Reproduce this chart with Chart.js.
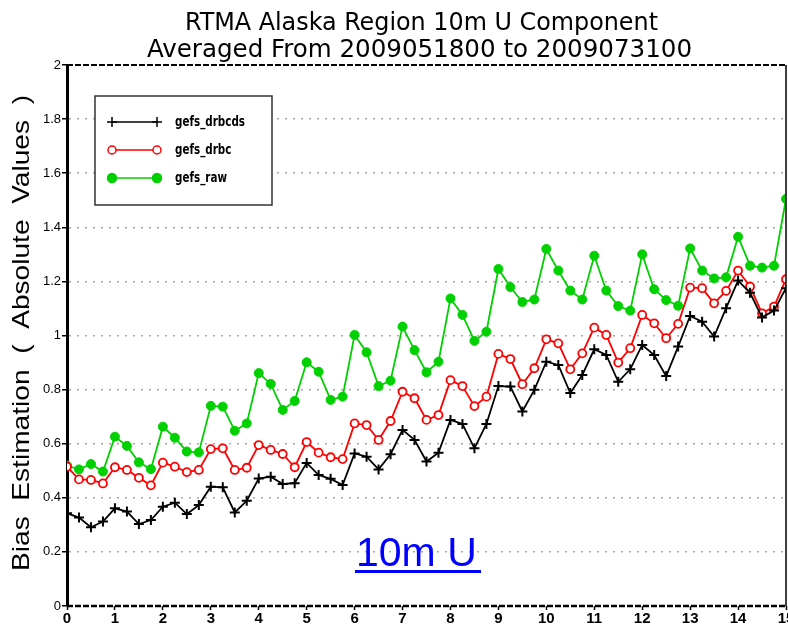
<!DOCTYPE html>
<html>
<head>
<meta charset="utf-8">
<script src="https://cdn.jsdelivr.net/npm/chart.js@4.4.1/dist/chart.umd.min.js"></script>
<style>
body { margin: 0; background: #fff; }
</style>
</head>
<body>
<canvas id="myChart" width="788" height="626"></canvas>
<script>
var xValues = [0, 0.25, 0.5, 0.75, 1, 1.25, 1.5, 1.75, 2, 2.25, 2.5, 2.75, 3, 3.25, 3.5, 3.75,
	4, 4.25, 4.5, 4.75, 5, 5.25, 5.5, 5.75, 6, 6.25, 6.5, 6.75, 7, 7.25, 7.5, 7.75,
	8, 8.25, 8.5, 8.75, 9, 9.25, 9.5, 9.75, 10, 10.25, 10.5, 10.75, 11, 11.25, 11.5, 11.75,
	12, 12.25, 12.5, 12.75, 13, 13.25, 13.5, 13.75, 14, 14.25, 14.5, 14.75, 15];
var xTicks = [0, 1, 2, 3, 4, 5, 6, 7, 8, 9, 10, 11, 12, 13, 14, 15];
var yTicks = ["0", "0.2", "0.4", "0.6", "0.8", "1", "1.2", "1.4", "1.6", "1.8", "2"];

var drbcds = [0.343, 0.327, 0.291, 0.312, 0.361, 0.349, 0.303, 0.318, 0.367, 0.382, 0.340, 0.373,
	0.441, 0.439, 0.346, 0.389, 0.471, 0.478, 0.451, 0.454, 0.529,
	0.484, 0.470, 0.447, 0.564, 0.552, 0.505, 0.561, 0.651, 0.614, 0.534, 0.567,
	0.688, 0.673, 0.583, 0.673, 0.813, 0.811, 0.719, 0.799, 0.903,
	0.891, 0.787, 0.854, 0.949, 0.928, 0.829, 0.875, 0.965, 0.928, 0.850, 0.959,
	1.072, 1.051, 0.996, 1.101, 1.203, 1.158, 1.067, 1.092, 1.175];
var drbc = [0.515, 0.468, 0.466, 0.453, 0.513, 0.503, 0.474, 0.446, 0.530, 0.515, 0.495, 0.503,
	0.580, 0.583, 0.503, 0.511, 0.595, 0.577, 0.562, 0.513, 0.606,
	0.567, 0.550, 0.543, 0.675, 0.669, 0.614, 0.684, 0.792, 0.768, 0.688, 0.706,
	0.835, 0.813, 0.739, 0.774, 0.932, 0.913, 0.820, 0.879, 0.986,
	0.971, 0.875, 0.934, 1.029, 1.002, 0.900, 0.953, 1.076, 1.045, 0.990, 1.043,
	1.177, 1.175, 1.119, 1.165, 1.240, 1.181, 1.082, 1.107, 1.208];
var raw = [0.519, 0.505, 0.525, 0.497, 0.626, 0.592, 0.531, 0.506, 0.663, 0.622, 0.571, 0.568,
	0.740, 0.737, 0.648, 0.675, 0.861, 0.821, 0.725, 0.758, 0.901,
	0.866, 0.762, 0.774, 1.002, 0.938, 0.813, 0.833, 1.033, 0.946, 0.864, 0.903,
	1.137, 1.076, 0.980, 1.014, 1.246, 1.179, 1.124, 1.133, 1.320,
	1.240, 1.166, 1.133, 1.295, 1.166, 1.109, 1.092, 1.300, 1.171, 1.131, 1.110,
	1.322, 1.240, 1.211, 1.215, 1.365, 1.258, 1.251, 1.258, 1.505];

var seriesNames = ["gefs_drbcds", "gefs_drbc", "gefs_raw"];
var titleLines = ["RTMA Alaska Region 10m U Component", "Averaged From 2009051800 to 2009073100"];
var yTitle = "Bias  Estimation  (  Absolute  Values  )";
var noteText = "10m U";

var GREEN = "#00d000";
var RED = "#ff0000";

function pts(arr) {
	return arr.map(function (v, i) { return { x: xValues[i], y: v }; });
}

// draw text squeezed/stretched so it spans exactly w pixels
function fitText(ctx, text, cx, cy, w) {
	var m = ctx.measureText(text).width;
	ctx.save();
	ctx.translate(cx, cy);
	ctx.scale(w / m, 1);
	ctx.fillText(text, 0, 0);
	ctx.restore();
}

// titles, frame, legend box and the blue note
var decor = {
	id: "decor",
	afterDraw: function (chart) {
		var ctx = chart.ctx;
		var a = chart.chartArea;
		ctx.save();

		// title
		ctx.fillStyle = "#000";
		ctx.textAlign = "center";
		ctx.textBaseline = "alphabetic";
		ctx.font = '25px "DejaVu Sans Condensed", "DejaVu Sans", sans-serif';
		fitText(ctx, titleLines[0], 421.5, 30, 473);
		fitText(ctx, titleLines[1], 419.5, 57, 545);

		// y axis title
		ctx.save();
		ctx.translate(22, 333);
		ctx.rotate(-Math.PI / 2);
		ctx.textBaseline = "middle";
		ctx.font = '24px "Liberation Sans", Arial, sans-serif';
		fitText(ctx, yTitle, 0, 0, 476);
		ctx.restore();

		// frame: dashed top and bottom, solid right
		ctx.strokeStyle = "#000";
		ctx.lineWidth = 2;
		ctx.setLineDash([6, 2]);
		ctx.beginPath();
		ctx.moveTo(a.left, a.top);
		ctx.lineTo(a.right, a.top);
		ctx.stroke();
		ctx.lineWidth = 2.5;
		ctx.beginPath();
		ctx.moveTo(a.left, a.bottom);
		ctx.lineTo(a.right, a.bottom);
		ctx.stroke();
		ctx.setLineDash([]);
		ctx.lineWidth = 1.5;
		ctx.beginPath();
		ctx.moveTo(a.right, a.top);
		ctx.lineTo(a.right, a.bottom);
		ctx.stroke();

		// legend
		ctx.fillStyle = "#fff";
		ctx.fillRect(95, 96, 177, 109);
		ctx.strokeStyle = "#333";
		ctx.lineWidth = 1.5;
		ctx.strokeRect(95, 96, 177, 109);
		var rows = [122, 150, 178];
		var styles = [
			{ color: "#000", pointStyle: "cross", fill: "#000", radius: 5 },
			{ color: RED, pointStyle: "circle", fill: "#fff", radius: 4 },
			{ color: GREEN, pointStyle: "circle", fill: GREEN, radius: 4.5 },
		];
		ctx.font = 'bold 14px "DejaVu Sans Condensed", sans-serif';
		var squeeze = 70 / ctx.measureText(seriesNames[0]).width;
		for (var i = 0; i < 3; i++) {
			var y = rows[i];
			var s = styles[i];
			ctx.strokeStyle = s.color;
			ctx.lineWidth = 1.5;
			ctx.beginPath();
			ctx.moveTo(112, y);
			ctx.lineTo(157, y);
			ctx.stroke();
			ctx.fillStyle = s.fill;
			Chart.helpers.drawPoint(ctx, { pointStyle: s.pointStyle, radius: s.radius, borderWidth: 2, rotation: 0 }, 112, y);
			Chart.helpers.drawPoint(ctx, { pointStyle: s.pointStyle, radius: s.radius, borderWidth: 2, rotation: 0 }, 157, y);
			ctx.fillStyle = "#000";
			ctx.textAlign = "left";
			ctx.textBaseline = "middle";
			ctx.save();
			ctx.translate(175, y);
			ctx.scale(squeeze, 1);
			ctx.fillText(seriesNames[i], 0, 0);
			ctx.restore();
		}

		// blue underlined note
		ctx.fillStyle = "#0000ff";
		ctx.textAlign = "left";
		ctx.textBaseline = "alphabetic";
		ctx.font = '41px "Liberation Sans", Arial, sans-serif';
		ctx.fillText(noteText, 356, 566);
		ctx.fillRect(355, 570, 126, 3);

		ctx.restore();
	},
};

var ctx = document.getElementById("myChart").getContext("2d");
var myChart = new Chart(ctx, {
	type: "line",
	data: {
		datasets: [
			{
				label: seriesNames[0],
				data: pts(drbcds),
				borderColor: "#000",
				backgroundColor: "#000",
				borderWidth: 1.8,
				pointStyle: "cross",
				pointRadius: 5,
				pointBorderWidth: 2,
				pointBorderColor: "#000",
			},
			{
				label: seriesNames[1],
				data: pts(drbc),
				borderColor: RED,
				backgroundColor: "#fff",
				borderWidth: 1.8,
				pointStyle: "circle",
				pointRadius: 4,
				pointBorderWidth: 1.8,
				pointBorderColor: RED,
				pointBackgroundColor: "#fff",
			},
			{
				label: seriesNames[2],
				data: pts(raw),
				borderColor: GREEN,
				backgroundColor: GREEN,
				borderWidth: 1.8,
				pointStyle: "circle",
				pointRadius: 4.5,
				pointBorderWidth: 1,
				pointBorderColor: GREEN,
				pointBackgroundColor: GREEN,
			},
		],
	},
	options: {
		responsive: false,
		animation: false,
		layout: { autoPadding: false, padding: { top: 65, right: 2, bottom: 0, left: 0 } },
		plugins: {
			legend: { display: false },
			title: { display: false },
			tooltip: { enabled: false },
		},
		scales: {
			x: {
				type: "linear",
				min: 0,
				max: 15,
				afterBuildTicks: function (scale) {
					scale.ticks = xTicks.map(function (v) { return { value: v }; });
				},
				afterFit: function (scale) {
					scale.height = 20;
					scale.paddingLeft = 0;
					scale.paddingRight = 0;
				},
				ticks: {
					color: "#000",
					padding: 0,
					maxRotation: 0,
					autoSkip: false,
					font: { family: '"Liberation Sans", Arial, sans-serif', size: 15, weight: "bold" },
				},
				grid: { drawOnChartArea: false, drawTicks: true, tickLength: 4, tickColor: "#000", tickWidth: 1.5 },
				border: { display: false },
			},
			y: {
				min: 0,
				max: 2,
				afterBuildTicks: function (scale) {
					scale.ticks = yTicks.map(function (t) { return { value: parseFloat(t) }; });
				},
				afterFit: function (scale) {
					scale.width = 67;
					scale.paddingTop = 0;
					scale.paddingBottom = 0;
				},
				ticks: {
					color: "#000",
					padding: 1,
					callback: function (value, index) { return yTicks[index]; },
					font: { family: '"Liberation Sans", Arial, sans-serif', size: 13 },
				},
				grid: {
					color: function (c) {
						if (c.tick && (c.tick.value === 0 || c.tick.value === 2)) return "rgba(0,0,0,0)";
						return "#a8a8a8";
					},
					lineWidth: 1.5,
					tickLength: 5,
					tickColor: "#000",
					tickWidth: 1.5,
				},
				border: { display: true, color: "#000", width: 3, dash: [2, 6] },
			},
		},
	},
	plugins: [decor],
});
</script>
</body>
</html>
